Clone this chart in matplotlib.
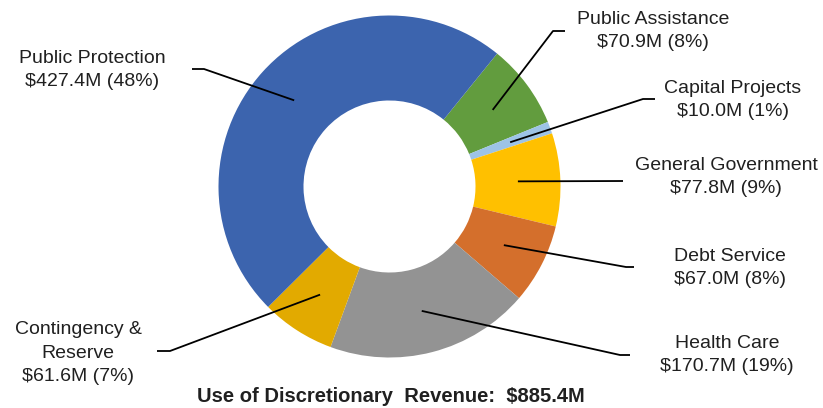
import matplotlib.pyplot as plt
import numpy as np

plt.rcParams['font.family'] = ['Liberation Sans', 'DejaVu Sans']

# Dati (in ordine orario, partendo da Public Assistance)
categorie = ["Public Assistance", "Capital Projects", "General Government",
             "Debt Service", "Health Care", "Contingency &\nReserve", "Public Protection"]
valori = [70.9, 10.0, 77.8, 67.0, 170.7, 61.6, 427.4]
percentuali = ["8%", "1%", "9%", "8%", "19%", "7%", "48%"]
colori = ["#629C3E", "#9DC3E6", "#FFC000", "#D46F2C", "#939393", "#E2AA00", "#3C64AE"]
totale = "$885.4M"

# Posizione delle etichette (pixel): testo x, testo y, gomito x, gomito y, fine x
etichette_pos = [
    (653, 31, 553, 31, 565),
    (733, 100, 643, 99, 655),
    (726, 177, 623, 181, 623),
    (730, 268, 626, 267, 634),
    (727, 355, 620, 355, 630),
    (78, 353, 170, 351, 157),
    (92, 70, 204, 69, 192),
]

W, H = 823, 408
fig = plt.figure(figsize=(W / 100, H / 100), dpi=100)
ax = fig.add_axes([0, 0, 1, 1])

cx, cy = 389.5, H - 186.5
R = 171
larghezza = 85
start = 51.0

ax.pie(valori, colors=colori, startangle=start, counterclock=False,
       center=(cx, cy), radius=R, frame=True,
       wedgeprops=dict(width=larghezza, edgecolor='none'))
ax.set_xlim(0, W)
ax.set_ylim(0, H)
ax.set_aspect('equal')
ax.axis('off')

tot = sum(valori)
ang = start
for nome, v, p, pos in zip(categorie, valori, percentuali, etichette_pos):
    span = v / tot * 360
    mid = np.deg2rad(ang - span / 2)
    ang -= span
    rm = R - larghezza / 2
    px, py = cx + rm * np.cos(mid), cy + rm * np.sin(mid)
    tx, ty, ex, ey, fx = pos
    ax.plot([px, ex, fx], [py, H - ey, H - ey], color='black', lw=1.3,
            solid_capstyle='butt')
    ax.text(tx, H - ty, f"{nome}\n${v:.1f}M ({p})", ha='center', va='center',
            fontsize=14, linespacing=1.5, color='#202020')

ax.text(391, H - 396, f"Use of Discretionary  Revenue:  {totale}", ha='center',
        va='center', fontsize=14.5, fontweight='bold', color='#202020')

fig.savefig("out.png", dpi=100)
